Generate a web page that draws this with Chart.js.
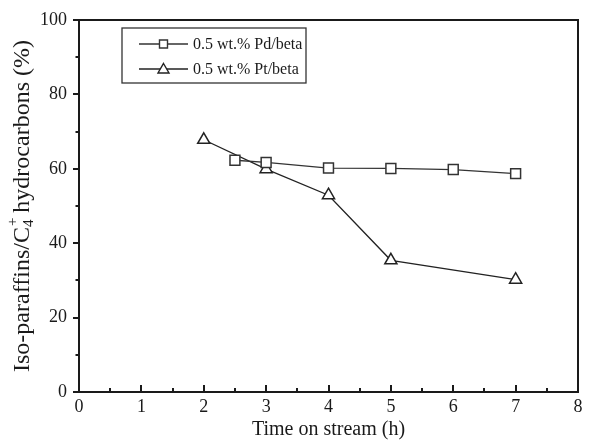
<!DOCTYPE html>
<html>
<head>
<meta charset="utf-8">
<script src="https://cdn.jsdelivr.net/npm/chart.js@4/dist/chart.umd.min.js"></script>
<style>
html,body{margin:0;padding:0;background:#fff;}
canvas{display:block;}
</style>
</head>
<body>
<canvas id="c" width="591" height="442"></canvas>
<script>
// ---- data ----
const timePd = [2.5, 3, 4, 5, 6, 7];
const valuesPd = [62.3, 61.7, 60.2, 60.1, 59.8, 58.7];
const timePt = [2, 3, 4, 5, 7];
const valuesPt = [67.8, 59.9, 52.9, 35.4, 30.2];
const labelPd = '0.5 wt.% Pd/beta';
const labelPt = '0.5 wt.% Pt/beta';
const xTitle = 'Time on stream (h)';
const yTitleParts = ['Iso-paraffins/C', '4', '+', ' hydrocarbons (%)'];
const xTickValues = [0, 1, 2, 3, 4, 5, 6, 7, 8];
const yTickValues = [0, 20, 40, 60, 80, 100];

const FONT = '"Liberation Serif", "Times New Roman", serif';
const INK = '#1a1a1a';

const framePlugin = {
  id: 'frameTicks',
  afterDraw(chart) {
    const ctx = chart.ctx;
    const {left, right, top, bottom} = chart.chartArea;
    const xs = chart.scales.x, ys = chart.scales.y;
    ctx.save();
    ctx.strokeStyle = INK;
    ctx.lineWidth = 2;
    ctx.strokeRect(left, top, right - left, bottom - top);
    ctx.beginPath();
    // x ticks (inward)
    for (let i = 0; i < xTickValues.length; i++) {
      const v = xTickValues[i];
      const px = Math.round(xs.getPixelForValue(v));
      ctx.moveTo(px, bottom); ctx.lineTo(px, bottom - 7);
      if (i < xTickValues.length - 1) {
        const m = Math.round(xs.getPixelForValue((v + xTickValues[i + 1]) / 2));
        ctx.moveTo(m, bottom); ctx.lineTo(m, bottom - 4);
      }
    }
    // y ticks (outward)
    for (let i = 0; i < yTickValues.length; i++) {
      const v = yTickValues[i];
      const py = Math.round(ys.getPixelForValue(v));
      ctx.moveTo(left, py); ctx.lineTo(left - 6, py);
      if (i < yTickValues.length - 1) {
        const m = Math.round(ys.getPixelForValue((v + yTickValues[i + 1]) / 2));
        ctx.moveTo(left, m); ctx.lineTo(left - 3.5, m);
      }
    }
    ctx.stroke();

    // x title
    ctx.fillStyle = INK;
    ctx.font = '20px ' + FONT;
    ctx.textAlign = 'center';
    ctx.textBaseline = 'alphabetic';
    ctx.fillText(xTitle, (left + right) / 2, 435);

    // y title with sub/superscript
    const big = '24px ' + FONT, small = '15px ' + FONT;
    ctx.font = big;
    const w0 = ctx.measureText(yTitleParts[0]).width;
    const w3 = ctx.measureText(yTitleParts[3]).width;
    ctx.font = small;
    const w1 = ctx.measureText(yTitleParts[1]).width;
    const w2 = ctx.measureText(yTitleParts[2]).width;
    const wSub = Math.max(w1, w2);
    const total = w0 + wSub + w3;
    ctx.translate(29, (top + bottom) / 2);
    ctx.rotate(-Math.PI / 2);
    ctx.textAlign = 'left';
    let x0 = -total / 2;
    ctx.font = big;
    ctx.fillText(yTitleParts[0], x0, 0);
    ctx.font = small;
    ctx.fillText(yTitleParts[1], x0 + w0, 4);
    ctx.fillText(yTitleParts[2], x0 + w0 + 1, -12);
    ctx.font = big;
    ctx.fillText(yTitleParts[3], x0 + w0 + wSub, 0);
    ctx.restore();

    // legend box
    ctx.save();
    ctx.strokeStyle = '#333';
    ctx.lineWidth = 1.3;
    const bx = 122, by = 28, bw = 184, bh = 55;
    ctx.strokeRect(bx, by, bw, bh);
    const rows = [
      {ds: chart.data.datasets[0], y: 44},
      {ds: chart.data.datasets[1], y: 69}
    ];
    rows.forEach(r => {
      ctx.strokeStyle = r.ds.borderColor;
      ctx.lineWidth = 1.3;
      ctx.beginPath();
      ctx.moveTo(139, r.y); ctx.lineTo(188, r.y);
      ctx.stroke();
      ctx.fillStyle = '#fff';
      ctx.strokeStyle = r.ds.borderColor;
      ctx.lineWidth = 1.4;
      ctx.beginPath();
      if (r.ds.pointStyle === 'rect') {
        ctx.rect(159.5, r.y - 4, 8, 8);
      } else {
        ctx.moveTo(163.5, r.y - 5.5); ctx.lineTo(169, r.y + 4); ctx.lineTo(158, r.y + 4); ctx.closePath();
      }
      ctx.fill(); ctx.stroke();
      ctx.fillStyle = INK;
      ctx.font = '16px ' + FONT;
      ctx.textAlign = 'left';
      ctx.textBaseline = 'middle';
      ctx.fillText(r.ds.label, 193, r.y + 1);
    });
    ctx.restore();
  }
};

new Chart(document.getElementById('c'), {
  type: 'line',
  data: {
    datasets: [
      {
        label: labelPd,
        data: timePd.map((t, i) => ({x: t, y: valuesPd[i]})),
        borderColor: '#333',
        borderWidth: 1.3,
        pointStyle: 'rect',
        pointRadius: 7,
        pointBorderWidth: 1.5,
        pointBackgroundColor: '#fff',
        pointBorderColor: '#333',
        tension: 0,
        order: 1
      },
      {
        label: labelPt,
        data: timePt.map((t, i) => ({x: t, y: valuesPt[i]})),
        borderColor: '#222',
        borderWidth: 1.3,
        pointStyle: 'triangle',
        pointRadius: 7,
        pointBorderWidth: 1.5,
        pointBackgroundColor: '#fff',
        pointBorderColor: '#222',
        tension: 0,
        order: 2
      }
    ]
  },
  options: {
    responsive: false,
    animation: false,
    devicePixelRatio: 1,
    layout: {padding: {left: 34, top: 20, right: 13, bottom: 0}},
    plugins: {legend: {display: false}, tooltip: {enabled: false}},
    scales: {
      x: {
        type: 'linear', min: 0, max: 8,
        afterBuildTicks(scale) { scale.ticks = xTickValues.map(v => ({value: v})); },
        afterFit(scale) { scale.height = 50; },
        grid: {display: false},
        border: {display: false},
        ticks: {color: INK, font: {family: FONT, size: 18}, padding: -4, maxRotation: 0}
      },
      y: {
        type: 'linear', min: 0, max: 100,
        afterBuildTicks(scale) { scale.ticks = yTickValues.map(v => ({value: v})); },
        afterFit(scale) { scale.width = 45; },
        grid: {display: false},
        border: {display: false},
        ticks: {color: INK, font: {family: FONT, size: 18}, padding: 4}
      }
    }
  },
  plugins: [framePlugin]
});
</script>
</body>
</html>
